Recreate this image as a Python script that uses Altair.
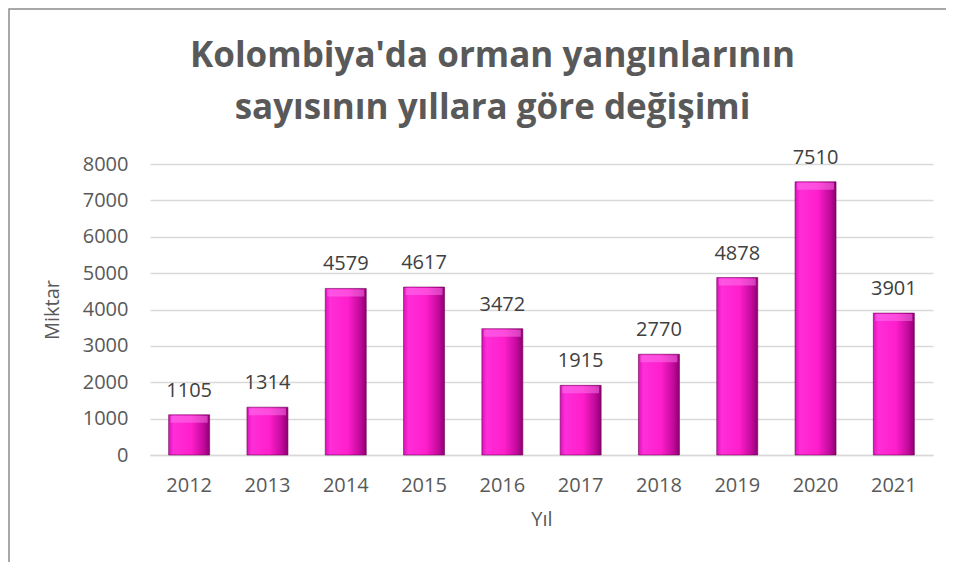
import altair as alt
import pandas as pd

years = ["2012", "2013", "2014", "2015", "2016", "2017", "2018", "2019", "2020", "2021"]
values = [1105, 1314, 4579, 4617, 3472, 1915, 2770, 4878, 7510, 3901]
y_ticks = [0, 1000, 2000, 3000, 4000, 5000, 6000, 7000, 8000]
title_lines = ["Kolombiya'da orman yangınlarının", "sayısının yıllara göre değişimi"]

df = pd.DataFrame({"Yıl": years, "Miktar": values})

FONT = "Open Sans"
GREY = "#595959"

x_enc = alt.X(
    "Yıl:N",
    sort=years,
    scale=alt.Scale(paddingInner=0, paddingOuter=0),
    axis=alt.Axis(
        title="Yıl",
        labelAngle=0,
        labelFont=FONT,
        labelFontSize=20,
        labelColor=GREY,
        labelPadding=20,
        titleFont=FONT,
        titleFontSize=20,
        titleFontWeight="normal",
        titleColor=GREY,
        titlePadding=14,
        ticks=False,
        domain=True,
        domainColor="#D9D9D9",
        domainWidth=1.5,
        grid=False,
    ),
)
y_enc = alt.Y(
    "Miktar:Q",
    scale=alt.Scale(domain=[0, 8000]),
    axis=alt.Axis(
        title="Miktar",
        values=y_ticks,
        format="d",
        labelOverlap=False,
        labelFont=FONT,
        labelFontSize=20,
        labelColor=GREY,
        labelPadding=22,
        titleFont=FONT,
        titleFontSize=20,
        titleFontWeight="normal",
        titleColor=GREY,
        titlePadding=20,
        ticks=False,
        domain=False,
        grid=True,
        gridColor="#D9D9D9",
        gridWidth=1.5,
    ),
)

gradient = alt.Gradient(
    gradient="linear",
    x1=0, x2=1, y1=0, y2=0,
    stops=[
        alt.GradientStop(offset=0, color="#D812B8"),
        alt.GradientStop(offset=0.12, color="#FF2ED8"),
        alt.GradientStop(offset=0.55, color="#FF1ECC"),
        alt.GradientStop(offset=0.85, color="#C20A9C"),
        alt.GradientStop(offset=1, color="#8E0070"),
    ],
)

bars = alt.Chart(df).mark_bar(size=41, fill=gradient, stroke="#6E0058", strokeWidth=0.6).encode(
    x=x_enc, y=y_enc
)

top_bevel = alt.Chart(df).mark_tick(
    size=37, thickness=7, color="#FF7AF0", opacity=0.5, yOffset=4.5
).encode(x=x_enc, y=y_enc)

labels = alt.Chart(df).mark_text(
    font=FONT, fontSize=20, color="#404040", baseline="alphabetic", dy=-18
).encode(x=x_enc, y=y_enc, text="Miktar:Q")

border = alt.Chart(pd.DataFrame({"b": [0]})).mark_rect(
    fill=None, stroke="#8C8C8C", strokeWidth=1.5
).encode(
    x=alt.value(-141), x2=alt.value(900), y=alt.value(-155), y2=alt.value(600)
)

chart = alt.layer(border, bars, top_bevel, labels).properties(
    width=783,
    height=291,
    autosize=alt.AutoSizeParams(type="none"),
    padding={"left": 142, "top": 156, "right": 13, "bottom": 107},
    title=alt.TitleParams(
        text=title_lines,
        font=FONT,
        fontSize=35,
        fontWeight="bold",
        color=GREY,
        lineHeight=52,
        anchor="middle",
        baseline="alphabetic",
        dx=-49,
        offset=-146,
    ),
).configure_view(stroke=None)

chart.save("out.html", embed_options={"renderer": "svg", "actions": False})
